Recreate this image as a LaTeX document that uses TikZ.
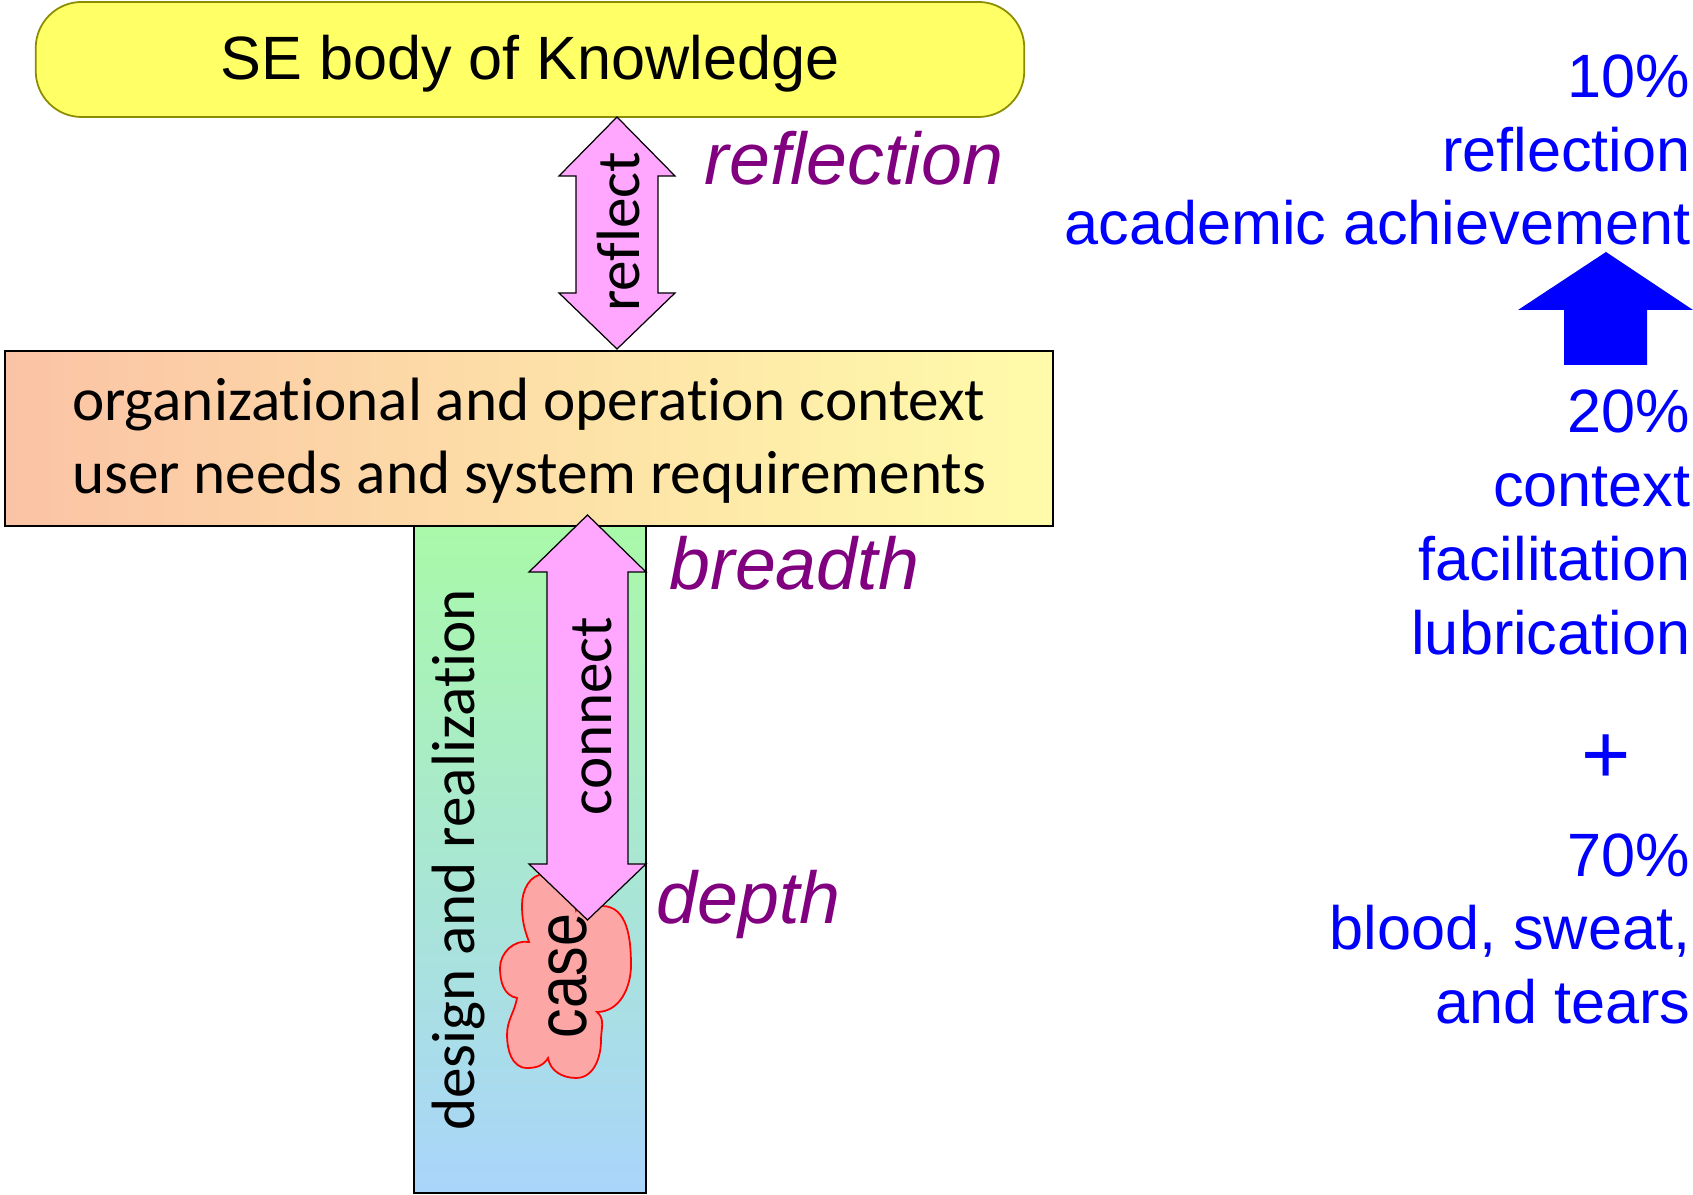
\documentclass[tikz,border=0pt]{standalone}
\usepackage{fontspec}
\setmainfont{Liberation Sans}
\newfontfamily\calib[Ligatures={NoCommon,NoContextual}]{Carlito}
\definecolor{seyellow}{HTML}{FFFF66}
\definecolor{seolive}{HTML}{8C8C00}
\definecolor{ctxleft}{HTML}{FBC3A5}
\definecolor{ctxright}{HTML}{FFFBAA}
\definecolor{drtop}{HTML}{A9F9A9}
\definecolor{drbottom}{HTML}{A9D5FB}
\definecolor{arrpink}{HTML}{FFA6FF}
\definecolor{cloudpink}{HTML}{FCA6A6}
\definecolor{lblpurple}{HTML}{800080}
\definecolor{lblblue}{HTML}{0000FF}
\tikzset{
  boxshape/.style={draw=black, line width=0.5pt, inner sep=0pt, outer sep=0pt},
  pinkarrow/.style={draw=black, line width=0.35pt, fill=arrpink, line join=miter},
  caltext/.style={font=\calib\fontsize{17.4}{21}\selectfont, inner sep=0pt},
  purplelbl/.style={font=\itshape\fontsize{20.9}{25}\selectfont, text=lblpurple, anchor=base west, inner sep=0pt},
  bluelbl/.style={font=\fontsize{17.4}{21}\selectfont, text=lblblue, anchor=base east, inner sep=0pt},
}
\begin{document}
\begin{tikzpicture}[x=0.01cm,y=-0.01cm]
\useasboundingbox (0,0) rectangle (1693,1195);
% boxes
\node[boxshape, top color=drtop, bottom color=drbottom, minimum width=2.32cm, minimum height=6.67cm] (dr) at (530,859.5) {};
\node[boxshape, left color=ctxleft, right color=ctxright, minimum width=10.48cm, minimum height=1.75cm] (ctx) at (529,438.5) {};
\node[draw=seolive, line width=0.5pt, fill=seyellow, rounded corners=0.46cm, minimum width=9.88cm, minimum height=1.15cm, inner sep=0pt] (se) at (530,59.5) {};
\node[font=\fontsize{17.4}{21}\selectfont, anchor=base, inner sep=0pt] (setext) at (530,80) {SE body of Knowledge};
% context text
\node[caltext, anchor=base] (ctx1) at (529,421) {organizational and operation context};
\node[caltext, anchor=base] (ctx2) at (529,494) {user needs and system requirements};
% cloud
\draw[draw=red, line width=0.5pt, fill=cloudpink]
  (529,942) to[out=110,in=-90] (522,905) to[out=90,in=180] (545,874) to[out=0,in=100] (576,910)
  to[out=80,in=180] (602,906) to[out=0,in=90] (631,965) to[out=-90,in=0] (597,1012)
  to[out=-40,in=90] (601,1040) to[out=-90,in=0] (576,1078) to[out=180,in=-80] (548,1058)
  to[out=-120,in=0] (527,1068) to[out=180,in=-90] (507,1035) to[out=90,in=-100] (517,998)
  to[out=170,in=-90] (500,968) to[out=90,in=170] cycle;
\node[font=\fontsize{20}{24}\selectfont, rotate=90, inner sep=0pt] (case) at (568,976) {\scalebox{0.84}[1]{case}};
% reflect arrow
\draw[pinkarrow] (617,117) -- (675,176) -- (658,176) -- (658,293) -- (675,293) -- (617,349) -- (559,293) -- (576,293) -- (576,176) -- (559,176) -- cycle;
% connect arrow
\draw[pinkarrow] (587.5,515) -- (646,572) -- (628,572) -- (628,864) -- (646,864) -- (587.5,920) -- (529,864) -- (547,864) -- (547,572) -- (529,572) -- cycle;
% rotated texts
\node[caltext, rotate=90] (design) at (459,860) {design and realization};
\node[caltext, rotate=90] (connect) at (592,716) {connect};
\node[caltext, rotate=90] (reflect) at (618,232) {reflect};
% purple labels
\node[purplelbl] (lrefl) at (704,185) {reflection};
\node[purplelbl] (lbread) at (669,590) {breadth};
\node[purplelbl] (ldepth) at (656,924) {depth};
% blue texts
\node[bluelbl] (b1) at (1691,98) {10\%};
\node[bluelbl] (b2) at (1691,172) {reflection};
\node[bluelbl] (b3) at (1691,245) {academic achievement};
\fill[lblblue] (1606,252) -- (1693,310) -- (1647,310) -- (1647,365) -- (1564,365) -- (1564,310) -- (1518,310) -- cycle;
\node[bluelbl] (b4) at (1691,433) {20\%};
\node[bluelbl] (b5) at (1691,507) {context};
\node[bluelbl] (b6) at (1691,581) {facilitation};
\node[bluelbl] (b7) at (1691,655) {lubrication};
\node[font=\fontsize{24}{28}\selectfont, text=lblblue, inner sep=0pt] (plus) at (1606,759) {+};
\node[bluelbl] (b8) at (1691,877) {70\%};
\node[bluelbl] (b9) at (1691,950) {blood, sweat,};
\node[bluelbl] (b10) at (1691,1024) {and tears};
\end{tikzpicture}
\end{document}
